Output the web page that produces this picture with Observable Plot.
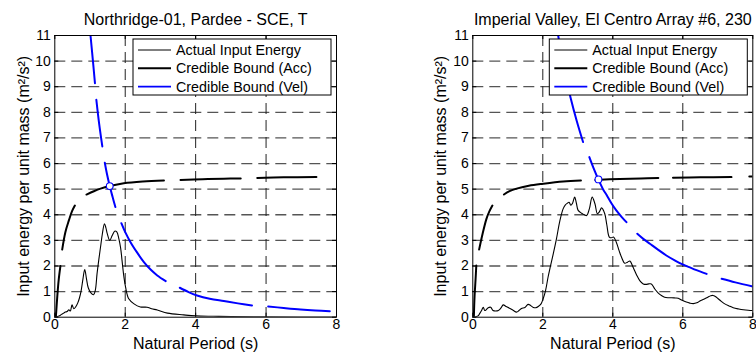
<!DOCTYPE html>
<html><head><meta charset="utf-8">
<script src="https://cdn.jsdelivr.net/npm/d3@7"></script>
<script src="https://cdn.jsdelivr.net/npm/@observablehq/plot@0.6"></script>
<style>
body{margin:0;background:#fff;}
#wrap{width:756px;height:353px;display:flex;overflow:hidden;background:#fff;}
#wrap svg{overflow:visible;flex:none;}
</style></head><body><div id="wrap"></div>
<script>
// ---------- shared ticks / labels ----------
const xTicks = [0, 2, 4, 6, 8];
const yTicks = [0, 1, 2, 3, 4, 5, 6, 7, 8, 9, 10, 11];
const xGrid = [2, 4, 6];
const yGrid = [1, 2, 3, 4, 5, 6, 7, 8, 9, 10];
const xLabel = "Natural Period (s)";
const yLabel = "Input energy per unit mass (m²/s²)";
const legendLabels = ["Actual Input Energy", "Credible Bound (Acc)", "Credible Bound (Vel)"];

// ---------- Panel 1: Northridge-01, Pardee - SCE, T ----------
const titleN = "Northridge-01, Pardee - SCE, T";
const actualT_N = [0, 0.08, 0.15, 0.2, 0.25, 0.3, 0.35, 0.4, 0.44, 0.49, 0.54, 0.6, 0.65, 0.7, 0.75, 0.8, 0.85, 0.9, 0.95, 1.02, 1.1, 1.15, 1.2, 1.25, 1.3, 1.35, 1.41, 1.45, 1.49, 1.56, 1.63, 1.7, 1.76, 1.82, 1.87, 1.91, 1.96, 2.01, 2.1, 2.25, 2.43, 2.62, 2.75, 2.91, 3.2, 3.66, 4.0, 4.5, 5.0, 6.0, 7.0, 8.0];
const actualE_N = [0, 0.03, 0.07, 0.12, 0.16, 0.2, 0.22, 0.29, 0.24, 0.48, 0.33, 0.42, 0.55, 0.75, 1.05, 1.5, 1.86, 1.5, 1.15, 0.96, 0.88, 1.05, 1.7, 2.25, 2.75, 3.25, 3.65, 3.5, 3.26, 3.0, 3.19, 3.36, 3.33, 3.06, 2.7, 2.21, 1.6, 1.17, 0.72, 0.52, 0.4, 0.39, 0.33, 0.28, 0.16, 0.09, 0.05, 0.035, 0.025, 0.015, 0.01, 0.005];
const accT_N = [0.03, 0.07, 0.11, 0.16, 0.185, 0.21, 0.3, 0.4, 0.49, 0.57, 0.75, 0.9, 1.11, 1.3, 1.56, 1.96, 2.5, 3.1, 3.35, 3.57, 4.2, 4.8, 5.28, 5.5, 5.75, 6.5, 7.43];
const accE_N = [0, 0.8, 1.45, 2.0, null, 2.64, 3.32, 3.78, 4.14, 4.36, null, 4.79, 4.92, 5.02, 5.12, 5.23, 5.3, 5.34, null, 5.36, 5.39, 5.41, 5.42, null, 5.44, 5.46, 5.47];
const velT_N = [1.014, 1.08, 1.14, 1.16, 1.18, 1.26, 1.35, 1.38, 1.42, 1.48, 1.56, 1.64, 1.72, 1.8, 1.89, 2.0, 2.15, 2.35, 2.53, 2.72, 2.91, 3.15, 3.35, 3.55, 3.8, 4.04, 4.4, 4.8, 5.2, 5.6, 5.8, 6.06, 6.5, 6.98, 7.4, 7.81];
const velE_N = [11, 10.05, 9.14, null, 8.49, 7.55, 6.67, null, 6.03, 5.6, 5.12, 4.7, 4.3, null, 3.67, 3.32, 2.93, 2.5, 2.15, 1.86, 1.63, 1.41, null, 1.15, 0.98, 0.85, 0.72, 0.63, 0.54, 0.46, null, 0.42, 0.36, 0.3, 0.26, 0.23];
const crossT_N = 1.56, crossE_N = 5.12;

// ---------- Panel 2: Imperial Valley, El Centro Array #6, 230 ----------
const titleI = "Imperial Valley, El Centro Array #6, 230";
const actualT_I = [0, 0.1, 0.15, 0.2, 0.25, 0.3, 0.34, 0.39, 0.44, 0.51, 0.58, 0.65, 0.73, 0.8, 0.87, 0.95, 1.06, 1.15, 1.25, 1.32, 1.39, 1.49, 1.58, 1.65, 1.73, 1.8, 1.87, 1.95, 2.01, 2.08, 2.15, 2.22, 2.3, 2.39, 2.49, 2.58, 2.64, 2.7, 2.75, 2.8, 2.85, 2.91, 2.96, 3.01, 3.11, 3.25, 3.33, 3.41, 3.49, 3.56, 3.62, 3.68, 3.77, 3.83, 3.9, 3.96, 4.02, 4.1, 4.18, 4.25, 4.34, 4.42, 4.49, 4.58, 4.68, 4.77, 4.87, 4.95, 5.03, 5.1, 5.2, 5.3, 5.4, 5.48, 5.58, 5.68, 5.78, 5.87, 5.98, 6.1, 6.2, 6.3, 6.4, 6.49, 6.6, 6.7, 6.8, 6.86, 6.93, 7.01, 7.1, 7.2, 7.32, 7.44, 7.6, 7.73, 7.87, 8.0];
const actualE_I = [0, 0.02, 0.05, 0.15, 0.26, 0.39, 0.26, 0.3, 0.37, 0.39, 0.26, 0.24, 0.26, 0.35, 0.48, 0.42, 0.34, 0.27, 0.2, 0.26, 0.34, 0.38, 0.5, 0.46, 0.38, 0.37, 0.42, 0.52, 0.72, 1.05, 1.56, 2.0, 2.48, 3.06, 3.78, 4.23, 4.38, 4.45, 4.49, 4.37, 4.45, 4.69, 4.45, 4.17, 4.06, 3.97, 4.23, 4.69, 4.43, 4.04, 4.12, 4.27, 4.04, 3.6, 3.13, 3.1, 3.13, 2.93, 2.6, 2.34, 2.11, 2.15, 2.19, 1.95, 1.65, 1.43, 1.3, 1.28, 1.3, 1.3, 1.1, 0.94, 0.84, 0.78, 0.76, 0.76, 0.75, 0.74, 0.66, 0.59, 0.55, 0.53, 0.56, 0.63, 0.7, 0.77, 0.84, 0.85, 0.81, 0.72, 0.62, 0.52, 0.44, 0.37, 0.32, 0.29, 0.27, 0.26];
const accT_I = [0.03, 0.05, 0.08, 0.1, 0.14, 0.18, 0.28, 0.39, 0.47, 0.56, 0.72, 0.89, 1.05, 1.25, 1.6, 2.01, 2.58, 3.09, 3.3, 3.5, 4.2, 4.8, 5.3, 5.5, 5.72, 6.5, 7.39, 7.6, 7.9, 8.0];
const accE_I = [0, 0.8, 1.5, 2.02, null, 2.64, 3.26, 3.84, 4.12, 4.36, null, 4.79, 4.92, 5.02, 5.13, 5.21, 5.3, 5.34, null, 5.36, 5.4, 5.42, 5.44, null, 5.45, 5.46, 5.47, null, 5.49, 5.49];
const velT_I = [2.44, 2.6, 2.79, 2.97, 3.15, 3.24, 3.33, 3.45, 3.59, 3.72, 3.82, 3.96, 4.1, 4.25, 4.39, 4.55, 4.7, 4.88, 5.06, 5.3, 5.53, 5.77, 6.01, 6.35, 6.68, 6.9, 7.11, 7.5, 8.0];
const velE_I = [11, 9.7, 8.59, 7.66, 6.84, null, 6.25, 5.82, 5.37, 5.0, 4.78, 4.45, 4.17, 3.92, 3.71, null, 3.26, 3.05, 2.87, 2.63, 2.41, 2.22, 2.05, 1.86, 1.69, null, 1.5, 1.36, 1.2];
const crossT_I = 3.59, crossE_I = 5.38;

// ---------- drawing ----------
const FONT = "'Liberation Sans', Arial, Helvetica, sans-serif";
const legendStyles = [
  {stroke: "#000", width: 1},
  {stroke: "#000", width: 2},
  {stroke: "#0000ff", width: 1.6}
];
const rows = (T, E) => T.map((t, i) => ({t, e: E[i]}));

function panel({title, actT, actE, accT, accE, velT, velE, cT, cE, marginLeft, marginRight, ylabDx}) {
  const W = 378, H = 353, mT = 35, mB = 36.3;
  const fw = W - marginLeft - marginRight, fh = H - mT - mB;
  const legend = (index, scales, values, dims) => {
    const x1 = dims.width - dims.marginRight - 5, bw = 198, x0 = x1 - bw, y0 = dims.marginTop + 4;
    const g = d3.create("svg:g").attr("text-anchor", "start");
    g.append("rect").attr("x", x0).attr("y", y0).attr("width", bw).attr("height", 56)
      .attr("fill", "#fff").attr("stroke", "#000").attr("stroke-width", 1);
    legendLabels.forEach((lab, i) => {
      const cy = y0 + 11 + i * 18.3;
      g.append("line").attr("x1", x0 + 5).attr("x2", x0 + 38).attr("y1", cy).attr("y2", cy)
        .attr("stroke", legendStyles[i].stroke).attr("stroke-width", legendStyles[i].width);
      g.append("text").attr("x", x0 + 43).attr("y", cy).attr("dy", "0.36em")
        .attr("text-anchor", "start")
        .attr("font-size", 14.3).attr("font-family", FONT).attr("fill", "#000").text(lab);
    });
    return g.node();
  };
  return Plot.plot({
    width: W, height: H, marginLeft, marginRight, marginTop: mT, marginBottom: mB,
    x: {domain: [0, 8]}, y: {domain: [0, 11]},
    style: {fontFamily: FONT, fontSize: "14px", color: "#000", background: "#fff", overflow: "visible"},
    marks: [
      Plot.ruleY(yGrid, {y: d => d, stroke: "#555", strokeWidth: 1.3, strokeDasharray: "11,6"}),
      Plot.ruleX(xGrid, {x: d => d, stroke: "#222", strokeWidth: 1, strokeDasharray: "11,6"}),
      Plot.line(rows(actT, actE), {x: "t", y: "e", stroke: "#000", strokeWidth: 1.1, curve: "catmull-rom", clip: true}),
      Plot.line(rows(accT, accE), {x: "t", y: "e", stroke: "#000", strokeWidth: 2, curve: "catmull-rom", clip: true}),
      Plot.line(rows(velT, velE), {x: "t", y: "e", stroke: "#0000ff", strokeWidth: 2, curve: "catmull-rom", clip: true}),
      Plot.dot([{t: cT, e: cE}], {x: "t", y: "e", r: 3.4, fill: "#fff", stroke: "#0000ff", strokeWidth: 1.1}),
      Plot.frame({stroke: "#000", strokeWidth: 1}),
      Plot.ruleX(xTicks, {x: d => d, insetTop: fh - 4, stroke: "#000"}),
      Plot.ruleX(xTicks, {x: d => d, insetBottom: fh - 4, stroke: "#000"}),
      Plot.ruleY(yTicks, {y: d => d, insetRight: fw - 4, stroke: "#000"}),
      Plot.ruleY(yTicks, {y: d => d, insetLeft: fw - 4, stroke: "#000"}),
      Plot.axisX({ticks: xTicks, anchor: "bottom", tickSize: 0, tickPadding: 2, fontSize: 14, label: null, tickFormat: d => String(d)}),
      Plot.axisY({ticks: yTicks, anchor: "left", tickSize: 0, tickPadding: 4, fontSize: 14, label: null, tickFormat: d => String(d)}),
      legend,
      Plot.text([title], {text: d => d, frameAnchor: "top", dy: -16, fontSize: 16, lineAnchor: "middle", textAnchor: "middle", fill: "#000"}),
      Plot.text([xLabel], {text: d => d, frameAnchor: "bottom", dy: 27, fontSize: 16, lineAnchor: "middle", textAnchor: "middle", fill: "#000"}),
      Plot.text([yLabel], {text: d => d, frameAnchor: "left", dx: ylabDx, rotate: -90, fontSize: 16, lineAnchor: "middle", textAnchor: "middle", fill: "#000"})
    ]
  });
}

const wrap = document.getElementById("wrap");
wrap.append(panel({title: titleN, actT: actualT_N, actE: actualE_N, accT: accT_N, accE: accE_N, velT: velT_N, velE: velE_N,
  cT: crossT_N, cE: crossE_N, marginLeft: 54.3, marginRight: 42, ylabDx: -31.3}));
wrap.append(panel({title: titleI, actT: actualT_I, actE: actualE_I, accT: accT_I, accE: accE_I, velT: velT_I, velE: velE_I,
  cT: crossT_I, cE: crossE_I, marginLeft: 94.3, marginRight: 3.7, ylabDx: -32.3}));
</script></body></html>
